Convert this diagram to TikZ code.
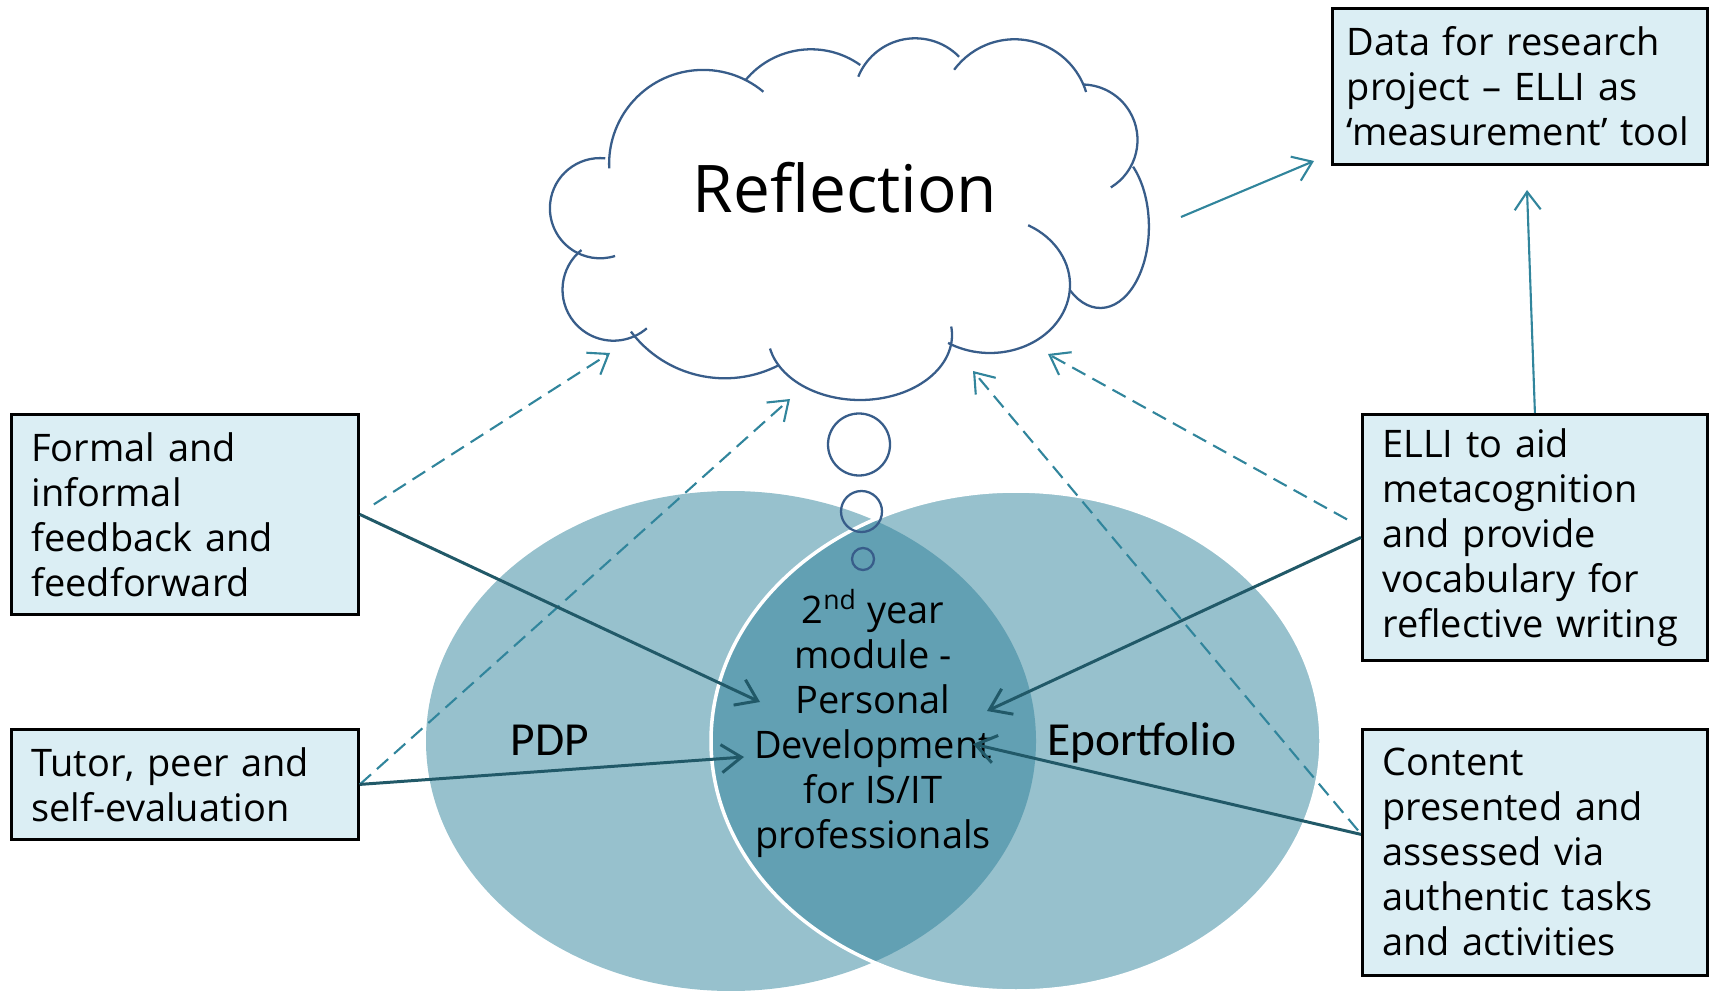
\documentclass[tikz,border=0pt]{standalone}
\usepackage{fontspec}
\setmainfont{Open Sans}
\newfontfamily\vennfont{Carlito}
\usetikzlibrary{arrows.meta,calc}
\definecolor{boxfill}{HTML}{DBEEF4}
\definecolor{venn1}{HTML}{97C1CD}
\definecolor{venn2}{HTML}{62A0B3}
\definecolor{cloudblue}{HTML}{385D8A}
\definecolor{link1}{HTML}{31859C}
\definecolor{link2}{HTML}{215968}
\tikzstyle{info_box}=[rectangle,
                      draw=black,
                      line width=0.8pt,
                      fill=boxfill,
                      anchor=north west,
                      align=left,
                      inner xsep=2mm,
                      inner ysep=1mm,
                      font=\fontsize{10.8}{12.8}\selectfont]
\tikzstyle{cloud_line}=[draw=cloudblue, line width=0.65pt]
\tikzstyle{venn_label}=[anchor=base, font=\vennfont\fontsize{13.5}{16}\selectfont]
\tikzstyle{solid_link}=[draw=link2, line width=0.85pt,
                        -{Straight Barb[length=2mm, width=2.8mm]}]
\tikzstyle{thin_link}=[draw=link1, line width=0.6pt,
                       -{Straight Barb[length=1.8mm, width=2.6mm]}]
\tikzstyle{dashed_link}=[thin_link, dash pattern=on 1.5mm off 0.8mm]

\begin{document}
\begin{tikzpicture}[x=1mm, y=-1mm]
  \useasboundingbox (0, 0) rectangle (171.3, 99.1);

  \fill[venn1] (73.1, 74.1) ellipse [x radius=30.5, y radius=25];
  \fill[venn1] (101.6, 74.1) ellipse [x radius=30.5, y radius=25];
  \begin{scope}
    \clip (73.1, 74.1) ellipse [x radius=30.5, y radius=25];
    \fill[venn2] (101.6, 74.1) ellipse [x radius=30.5, y radius=25];
  \end{scope}
  \draw[white, line width=1pt] (101.6, 74.1) ellipse [x radius=30.5, y radius=25];

  \foreach \cx/\cy/\rx/\ry/\sa/\ea in {60.0/20.82/5.01/5.01/276/72.5,
      61.35/28.97/5.1/5.1/231.1/49.2,
      72.48/26.06/11.77/11.77/142.9/62.5,
      86.0/33.5/9.2/6.5/168/-7.5,
      99.0/28.5/8.0/6.8/121.6/-61.5,
      110.03/22.67/4.86/8.13/128.8/-47.6,
      108.2/14.0/5.55/5.55/58.7/-88,
      101.45/11.43/7.5/7.5/-17.3/-143.6,
      91.52/9.97/6.14/6.14/-44.4/-158,
      81.1/13.43/8.5/8.5/-54.6/-140.3,
      70.31/16.39/9.4/9.4/-50.1/-182.7} {
    \draw[cloud_line] (\cx, \cy) ++({\rx*cos(\sa)}, {\ry*sin(\sa)})
      arc [start angle=\sa, end angle=\ea, x radius=\rx, y radius=\ry];
  }
  \foreach \bx/\by/\br in {85.9/44.45/3.1, 86.15/51.15/2.05, 86.3/55.9/1.1} {
    \draw[cloud_line] (\bx, \by) circle [radius=\br];
  }
  \node at (84.5, 21.3) (R) [anchor=base, font=\fontsize{18.7}{22}\selectfont] {Reflection};

  \node at (1.0, 41.3) (FB) [info_box, text width=30.7mm, minimum height=20mm]
    {Formal and\\ informal\\ feedback and\\ feedforward};
  \node at (1.0, 72.8) (TP) [info_box, text width=30.7mm, minimum height=11mm]
    {Tutor, peer and\\ self-evaluation};
  \node at (133.1, 0.7) (DR) [info_box, text width=34.6mm, inner xsep=1.45mm, minimum height=15.6mm]
    {Data for research\\ project -- ELLI as\\ `measurement'~tool};
  \node at (136.1, 41.3) (EL) [info_box, text width=30.5mm, minimum height=24.6mm]
    {ELLI to aid\\ metacognition\\ and provide\\ vocabulary for\\ reflective writing};
  \node at (136.1, 72.8) (CP) [info_box, text width=30.5mm, minimum height=24.6mm]
    {Content\\ presented and\\ assessed via\\ authentic tasks\\ and activities};

  \node at (87.3, 72.35) (M) [align=center, font=\fontsize{10.8}{12.8}\selectfont]
    {2\textsuperscript{nd} year\\ module -\\ Personal\\ Development\\ for IS/IT\\ professionals};
  \node at (55.0, 75.5) (PDP) [venn_label] {PDP};
  \node at (114.2, 75.5) (EP) [venn_label] {Eportfolio};

  \coordinate (M1) at (76.0, 70.2);
  \coordinate (M2) at (74.4, 75.7);
  \coordinate (M3) at (98.7, 71.1);
  \coordinate (M4) at (97.3, 74.4);
  \coordinate (R1) at (61.0, 35.3);
  \coordinate (R2) at (79.0, 39.9);
  \coordinate (R3) at (104.8, 35.4);
  \coordinate (R4) at (97.3, 37.1);
  \coordinate (R5) at (118.1, 21.7);
  \coordinate (D1) at (152.7, 19.0);
  \coordinate (D2) at (131.4, 16.1);

  \draw[dashed_link] ($(FB.east)+(1.4, -1.0)$) -- (R1);
  \draw[dashed_link] (TP.east) -- (R2);
  \draw[dashed_link] ($(EL.west)+(-1.4, -1.8)$) -- (R3);
  \draw[dashed_link] ($(CP.west)+(-0.3, -2.2)$) -- (R4);

  \draw[solid_link] (FB.east) -- (M1);
  \draw[solid_link] (TP.east) -- (M2);
  \draw[solid_link] (EL.west) -- (M3);
  \draw[solid_link] ($(CP.west)+(0, -1.8)$) -- (M4);

  \draw[thin_link] (EL.north) -- (D1);
  \draw[thin_link] (R5) -- (D2);
\end{tikzpicture}
\end{document}
